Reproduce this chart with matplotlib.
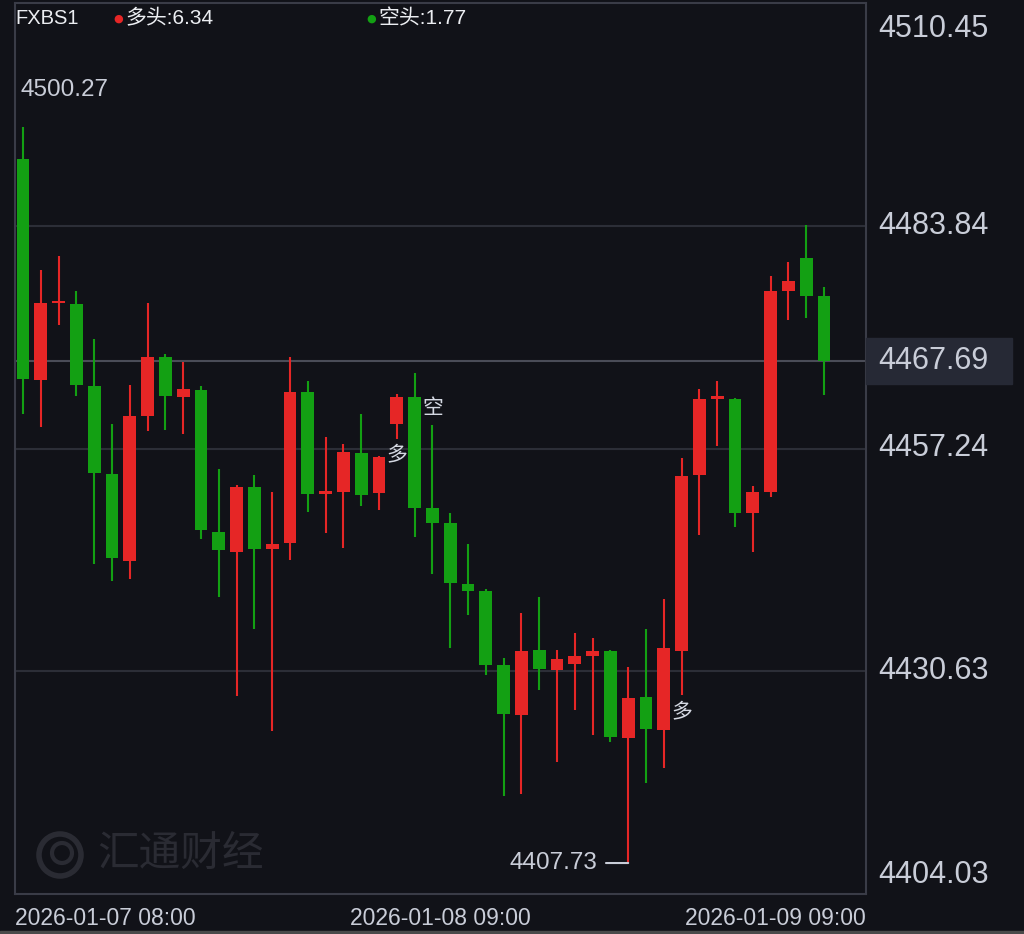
import matplotlib
matplotlib.use("Agg")
import matplotlib.pyplot as plt
import matplotlib.transforms as mtransforms
from matplotlib.patches import Rectangle, Circle

plt.rcParams['font.family'] = ['Liberation Sans', 'Noto Sans CJK SC', 'DejaVu Sans']

BG = "#111218"
UP = "#e62626"
DOWN = "#13a013"
GRID = "#2c2e37"
FRAME = "#3a3c47"
TXT = "#c9cdd8"
W, H = 1024, 934

# hourly candles, oldest first
opens = [4491.83, 4465.38, 4474.60, 4474.53, 4464.75, 4454.25, 4443.84, 4461.17, 4468.13, 4463.40,
         4464.24, 4447.25, 4444.86, 4452.67, 4445.19, 4445.99, 4464.00, 4451.85, 4451.99, 4456.72,
         4451.90, 4460.22, 4463.36, 4450.16, 4448.32, 4441.05, 4440.21, 4431.38, 4425.42, 4433.17,
         4430.79, 4431.50, 4432.46, 4433.10, 4422.72, 4427.53, 4423.67, 4433.02, 4454.05, 4463.20,
         4463.20, 4449.52, 4452.02, 4476.05, 4479.99, 4475.41]
highs = [4495.69, 4478.51, 4480.18, 4476.00, 4470.36, 4460.13, 4464.87, 4474.62, 4468.53, 4467.58,
         4464.75, 4454.85, 4452.94, 4454.05, 4452.02, 4468.13, 4465.26, 4458.63, 4457.83, 4461.38,
         4456.40, 4463.76, 4466.27, 4460.10, 4449.48, 4445.87, 4440.41, 4432.26, 4437.55, 4439.54,
         4433.17, 4435.25, 4434.65, 4433.20, 4431.19, 4435.72, 4439.22, 4456.08, 4464.36, 4465.31,
         4463.30, 4452.78, 4477.87, 4479.46, 4483.88, 4476.48]
lows = [4461.41, 4459.78, 4471.95, 4463.56, 4443.40, 4441.40, 4441.69, 4459.30, 4459.42, 4458.99,
        4446.46, 4439.46, 4427.68, 4435.72, 4423.51, 4443.87, 4449.68, 4447.13, 4445.34, 4450.43,
        4449.84, 4458.43, 4446.65, 4442.29, 4433.46, 4437.31, 4430.15, 4415.68, 4415.96, 4428.40,
        4419.74, 4426.01, 4422.99, 4422.20, 4407.73, 4417.27, 4419.06, 4427.80, 4446.86, 4457.51,
        4447.89, 4444.83, 4451.47, 4472.63, 4472.78, 4463.59]
closes = [4465.55, 4474.65, 4474.75, 4464.79, 4454.34, 4444.11, 4461.14, 4468.18, 4463.47, 4464.31,
          4447.49, 4445.10, 4452.67, 4445.22, 4445.87, 4464.00, 4451.75, 4451.95, 4456.84, 4451.63,
          4456.28, 4463.36, 4450.16, 4448.37, 4441.17, 4440.26, 4431.43, 4425.50, 4433.10, 4430.95,
          4432.06, 4432.46, 4433.02, 4422.84, 4427.49, 4423.71, 4433.37, 4453.93, 4463.16, 4463.28,
          4449.48, 4452.02, 4476.00, 4477.24, 4475.41, 4467.69]

y_min, y_max = 4404.03, 4510.45
grid_levels = [4483.84, 4457.24, 4430.63]
last_price = 4467.69
max_label = 4500.27
min_label = 4407.73
min_index = 34

long_signals = [21, 37]   # 多
short_signals = [23]      # 空

x_labels = ["2026-01-07 08:00", "2026-01-08 09:00", "2026-01-09 09:00"]
header_name = "FXBS1"
long_text = "多头:6.34"
short_text = "空头:1.77"
watermark = "汇通财经"

fig = plt.figure(figsize=(W / 100, H / 100), dpi=100, facecolor=BG)
ax = fig.add_axes([15 / W, 1 - 894 / H, 851 / W, 891 / H])
ax.set_facecolor(BG)
ax.set_xlim(-0.45, 47.36)
ax.set_ylim(y_min, y_max)
ax.set_xticks([])
ax.set_yticks([])
for sp in ax.spines.values():
    sp.set_color(FRAME)
    sp.set_linewidth(1.5)

for g in grid_levels:
    ax.axhline(g, color=GRID, lw=1.5, zorder=0)
ax.axhline(last_price, color="#4a4c57", lw=1.5, zorder=0)

xs = list(range(len(opens)))
cols = [UP if c >= o else DOWN for o, c in zip(opens, closes)]
ax.vlines(xs, lows, highs, colors=cols, lw=1.5, zorder=2)
bottoms = [min(o, c) for o, c in zip(opens, closes)]
heights = [max(abs(c - o), 0.3) for o, c in zip(opens, closes)]
ax.bar(xs, heights, bottom=bottoms, width=0.72, color=cols, zorder=3, linewidth=0)

# signal marks
sig_font = dict(fontsize=15, color="#d4d8e2", ha="center", zorder=5)
for i in long_signals:
    ax.annotate("多", (i, lows[i]), xytext=(0, -5), textcoords="offset points", va="top", **sig_font)
for i in short_signals:
    ax.annotate("空", (i, highs[i]), xytext=(0, 5), textcoords="offset points", va="bottom", **sig_font)

# max / min labels
ax.annotate(f"{max_label:.2f}", (0, max_label), xytext=(-2, -1), textcoords="offset points",
            ha="left", va="center", fontsize=17.5, color=TXT)
ax.annotate(f"{min_label:.2f}", (min_index, min_label), xytext=(-22, 0), textcoords="offset points",
            ha="right", va="center", fontsize=17.5, color=TXT)
ax.annotate("", (min_index, min_label), xytext=(-16, 0), textcoords="offset points",
            arrowprops=dict(arrowstyle="-", color=TXT, lw=1.5, shrinkA=0, shrinkB=0))

# right price scale
tr = mtransforms.blended_transform_factory(ax.transAxes, ax.transData)
lx = 1.014
ax.annotate(f"{y_max:.2f}", (lx, y_max), xycoords=tr, xytext=(0, -8), textcoords="offset points",
            ha="left", va="top", fontsize=22, color=TXT, annotation_clip=False)
ax.annotate(f"{y_min:.2f}", (lx, y_min), xycoords=tr, xytext=(0, 3), textcoords="offset points",
            ha="left", va="bottom", fontsize=22, color=TXT, annotation_clip=False)
for g in grid_levels:
    ax.text(lx, g, f"{g:.2f}", transform=tr, ha="left", va="center", fontsize=22, color=TXT, clip_on=False)
box_h = 46 / 8.382
ax.add_patch(Rectangle((1.0, last_price - box_h / 2), 146 / 851, box_h, transform=tr,
                       color="#262935", clip_on=False, zorder=4))
ax.text(lx, last_price, f"{last_price:.2f}", transform=tr, ha="left", va="center",
        fontsize=22, color=TXT, clip_on=False, zorder=5)

# time axis
ax.text(0, -0.015, x_labels[0], transform=ax.transAxes, ha="left", va="top", fontsize=16.5, color=TXT)
ax.text(0.5, -0.015, x_labels[1], transform=ax.transAxes, ha="center", va="top", fontsize=16.5, color=TXT)
ax.text(1.0, -0.015, x_labels[2], transform=ax.transAxes, ha="right", va="top", fontsize=16.5, color=TXT)

# header
fig.text(15 / W, 1 - 19 / H, header_name, ha="left", va="center", fontsize=14.5, color="#eceef2")
fig.text(113 / W, 1 - 19 / H, "●", ha="left", va="center", fontsize=8, color=UP, family="DejaVu Sans")
fig.text(125 / W, 1 - 19 / H, long_text, ha="left", va="center", fontsize=15, color="#eceef2")
fig.text(366 / W, 1 - 19 / H, "●", ha="left", va="center", fontsize=8, color=DOWN, family="DejaVu Sans")
fig.text(378 / W, 1 - 19 / H, short_text, ha="left", va="center", fontsize=15, color="#eceef2")

# watermark
fig.add_artist(Circle((60, H - 855), 21, transform=mtransforms.IdentityTransform(),
                      fill=False, lw=4, ec="#2a2b33"))
fig.add_artist(Circle((62, H - 853), 10, transform=mtransforms.IdentityTransform(),
                      fill=False, lw=3, ec="#2a2b33"))
fig.text(97 / W, 1 - 855 / H, watermark, ha="left", va="center", fontsize=30, color="#2a2b33",
         fontweight="light")

fig.add_artist(Rectangle((0, 0), 1, 3 / H, transform=fig.transFigure, color="#4a4a4a"))

fig.savefig("out.png", dpi=100, facecolor=BG)
